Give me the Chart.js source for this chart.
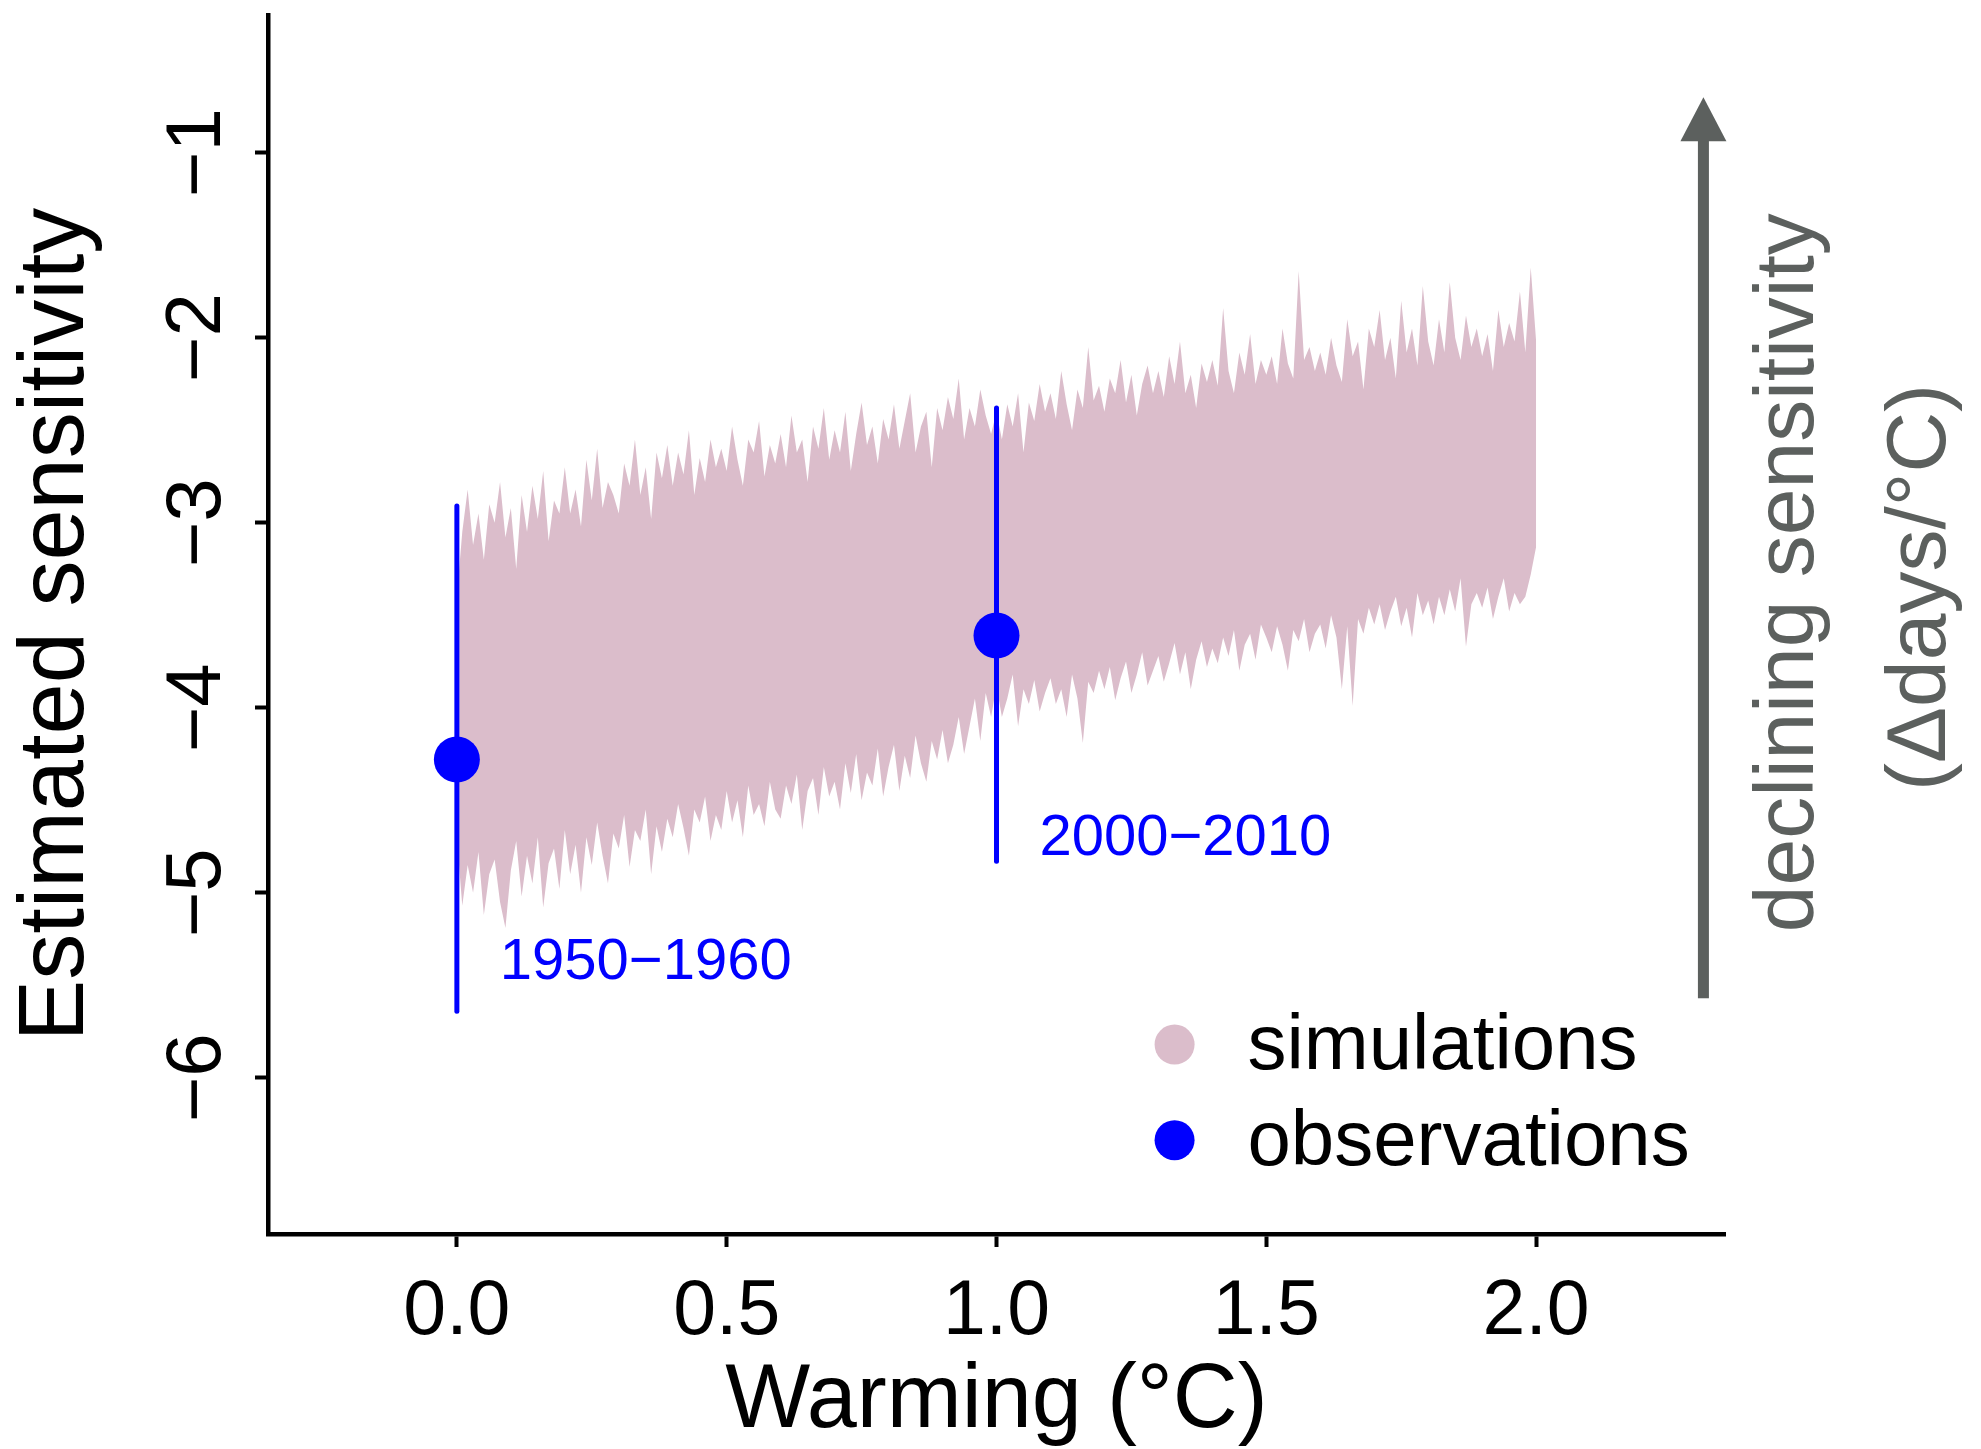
<!DOCTYPE html>
<html>
<head>
<meta charset="utf-8">
<title>Estimated sensitivity vs warming</title>
<script src="https://cdn.jsdelivr.net/npm/chart.js@4.4.1/dist/chart.umd.min.js"></script>
<style>
  html, body { margin: 0; padding: 0; background: #fff; }
  #chart { display: block; }
</style>
</head>
<body>
<canvas id="chart" width="1981" height="1449"></canvas>
<script>
// simulations: warming steps and the upper / lower edge of the envelope
var simX = [
  0,0.01,0.02,0.03,0.04,0.05,0.06,0.07,0.08,0.09,0.1,0.11,0.12,0.13,0.14,0.15,0.16,0.17,0.18,0.19,
  0.2,0.21,0.22,0.23,0.24,0.25,0.26,0.27,0.28,0.29,0.3,0.31,0.32,0.33,0.34,0.35,0.36,0.37,0.38,0.39,
  0.4,0.41,0.42,0.43,0.44,0.45,0.46,0.47,0.48,0.49,0.5,0.51,0.52,0.53,0.54,0.55,0.56,0.57,0.58,0.59,
  0.6,0.61,0.62,0.63,0.64,0.65,0.66,0.67,0.68,0.69,0.7,0.71,0.72,0.73,0.74,0.75,0.76,0.77,0.78,0.79,
  0.8,0.81,0.82,0.83,0.84,0.85,0.86,0.87,0.88,0.89,0.9,0.91,0.92,0.93,0.94,0.95,0.96,0.97,0.98,0.99,
  1,1.01,1.02,1.03,1.04,1.05,1.06,1.07,1.08,1.09,1.1,1.11,1.12,1.13,1.14,1.15,1.16,1.17,1.18,1.19,
  1.2,1.21,1.22,1.23,1.24,1.25,1.26,1.27,1.28,1.29,1.3,1.31,1.32,1.33,1.34,1.35,1.36,1.37,1.38,1.39,
  1.4,1.41,1.42,1.43,1.44,1.45,1.46,1.47,1.48,1.49,1.5,1.51,1.52,1.53,1.54,1.55,1.56,1.57,1.58,1.59,
  1.6,1.61,1.62,1.63,1.64,1.65,1.66,1.67,1.68,1.69,1.7,1.71,1.72,1.73,1.74,1.75,1.76,1.77,1.78,1.79,
  1.8,1.81,1.82,1.83,1.84,1.85,1.86,1.87,1.88,1.89,1.9,1.91,1.92,1.93,1.94,1.95,1.96,1.97,1.98,1.99,
  2
];
var simUpper = [
  -3.40,-3.05,-2.82,-3.12,-2.95,-3.20,-2.90,-3.00,-2.78,-3.08,
  -2.92,-3.25,-2.85,-3.05,-2.80,-2.98,-2.72,-3.10,-2.88,-2.95,
  -2.70,-2.95,-2.82,-3.02,-2.66,-2.88,-2.60,-2.92,-2.78,-2.85,
  -2.95,-2.68,-2.80,-2.55,-2.85,-2.70,-2.98,-2.62,-2.76,-2.58,
  -2.80,-2.62,-2.74,-2.50,-2.85,-2.65,-2.78,-2.55,-2.70,-2.60,
  -2.72,-2.48,-2.66,-2.80,-2.55,-2.62,-2.45,-2.75,-2.58,-2.68,
  -2.52,-2.70,-2.42,-2.62,-2.55,-2.78,-2.48,-2.60,-2.38,-2.66,
  -2.50,-2.62,-2.40,-2.72,-2.52,-2.35,-2.58,-2.48,-2.68,-2.44,
  -2.55,-2.36,-2.60,-2.45,-2.30,-2.62,-2.48,-2.40,-2.70,-2.38,
  -2.50,-2.32,-2.44,-2.22,-2.55,-2.38,-2.48,-2.28,-2.42,-2.52,
  -2.40,-2.55,-2.36,-2.48,-2.30,-2.62,-2.35,-2.45,-2.25,-2.40,
  -2.30,-2.44,-2.18,-2.36,-2.50,-2.28,-2.38,-2.05,-2.34,-2.26,
  -2.40,-2.22,-2.30,-2.12,-2.35,-2.20,-2.42,-2.25,-2.15,-2.30,
  -2.18,-2.32,-2.10,-2.25,-2.02,-2.30,-2.20,-2.38,-2.14,-2.24,
  -2.12,-2.26,-1.84,-2.18,-2.30,-2.08,-2.20,-1.98,-2.25,-2.12,
  -2.20,-2.10,-2.25,-1.95,-2.14,-2.22,-1.64,-2.12,-2.05,-2.18,
  -2.08,-2.20,-2.00,-2.15,-2.24,-1.90,-2.10,-2.02,-2.28,-1.95,
  -2.05,-1.85,-2.12,-2.00,-2.22,-1.80,-2.08,-1.95,-2.15,-1.72,
  -2.02,-2.15,-1.90,-2.08,-1.70,-2.00,-2.12,-1.88,-2.05,-1.95,
  -2.10,-1.98,-2.18,-1.85,-2.05,-1.92,-2.02,-1.75,-2.08,-1.62,
  -2.02
];
var simLower = [
  -4.70,-5.07,-4.85,-5.00,-4.78,-5.12,-4.90,-4.82,-5.05,-5.19,
  -4.88,-4.72,-5.02,-4.80,-4.95,-4.70,-5.08,-4.84,-4.76,-4.98,
  -4.66,-4.90,-4.74,-5.00,-4.70,-4.85,-4.62,-4.80,-4.95,-4.68,
  -4.76,-4.58,-4.86,-4.66,-4.72,-4.55,-4.90,-4.64,-4.78,-4.60,
  -4.70,-4.52,-4.65,-4.80,-4.55,-4.62,-4.48,-4.72,-4.58,-4.66,
  -4.45,-4.62,-4.50,-4.70,-4.42,-4.58,-4.52,-4.64,-4.40,-4.55,
  -4.60,-4.42,-4.52,-4.36,-4.66,-4.45,-4.38,-4.58,-4.32,-4.48,
  -4.40,-4.55,-4.30,-4.46,-4.25,-4.50,-4.35,-4.42,-4.22,-4.48,
  -4.32,-4.20,-4.45,-4.26,-4.38,-4.15,-4.30,-4.40,-4.18,-4.28,
  -4.12,-4.30,-4.20,-4.05,-4.25,-4.10,-3.95,-4.18,-3.92,-4.05,
  -3.88,-4.05,-3.95,-3.82,-4.10,-3.90,-3.98,-3.85,-4.02,-3.92,
  -3.84,-3.98,-3.90,-4.05,-3.82,-3.95,-4.19,-3.86,-3.92,-3.80,
  -3.90,-3.78,-3.96,-3.84,-3.75,-3.92,-3.82,-3.70,-3.88,-3.80,
  -3.72,-3.86,-3.76,-3.65,-3.82,-3.70,-3.90,-3.74,-3.64,-3.78,
  -3.68,-3.76,-3.62,-3.72,-3.58,-3.80,-3.66,-3.60,-3.74,-3.55,
  -3.62,-3.70,-3.56,-3.66,-3.80,-3.58,-3.64,-3.52,-3.70,-3.60,
  -3.55,-3.68,-3.50,-3.62,-3.90,-3.56,-3.99,-3.52,-3.60,-3.46,
  -3.55,-3.44,-3.58,-3.48,-3.40,-3.56,-3.46,-3.62,-3.38,-3.50,
  -3.42,-3.55,-3.40,-3.50,-3.36,-3.48,-3.30,-3.67,-3.44,-3.38,
  -3.46,-3.35,-3.52,-3.40,-3.30,-3.48,-3.38,-3.44,-3.40,-3.28,
  -3.13
];

// observations (two decades) with their error bars
var obsLabels = ['1950\u22121960', '2000\u22122010'];
var obsX = [0, 1];
var obsY = [-4.28, -3.61];
var obsLow = [-5.64, -4.83];
var obsHigh = [-2.91, -2.38];
var obsLabelX = [0.35, 1.35];
var obsLabelY = [-5.38, -4.71];

// axes
var xTicks = [0, 0.5, 1, 1.5, 2];
var yTicks = [-6, -5, -4, -3, -2, -1];
var xRange = [-0.35, 2.35];
var yRange = [-6.844, -0.256];

var legendLabels = ['simulations', 'observations'];
var arrowText = ['declining sensitivity', '(\u0394days/\u00b0C)'];
var arrowX = 2.31;
var arrowFrom = -5.57;
var arrowTo = -0.70;

var bandColor = '#dbbdcb';
var obsColor = '#0000ff';
var arrowColor = '#5c605e';
var FONT = '"Liberation Sans", Arial, Helvetica, sans-serif';

function minus(v) {
    return String(v).replace('-', '\u2212');
}

function pts(xs, ys) {
    return xs.map(function(x, i) { return {x: x, y: ys[i]}; });
}

var datasets = [
    {
        label: 'observations',
        data: pts(obsX, obsY),
        showLine: false,
        pointRadius: 23,
        pointBackgroundColor: obsColor,
        pointBorderWidth: 0,
        order: 0
    }
];
obsX.forEach(function(x, i) {
    datasets.push({
        label: 'err ' + obsLabels[i],
        data: [{x: x, y: obsLow[i]}, {x: x, y: obsHigh[i]}],
        borderColor: obsColor,
        borderWidth: 5,
        borderCapStyle: 'round',
        pointRadius: 0,
        fill: false,
        order: 1
    });
});
datasets.push({
    label: 'sim lower',
    data: pts(simX, simLower),
    borderWidth: 0,
    pointRadius: 0,
    fill: false,
    tension: 0,
    order: 3
});
datasets.push({
    label: 'simulations',
    data: pts(simX, simUpper),
    borderWidth: 0,
    pointRadius: 0,
    backgroundColor: bandColor,
    fill: '-1',
    tension: 0,
    order: 2
});

// texts, legend and the arrow on the right
var overlay = {
    id: 'overlay',
    afterDatasetsDraw: function(chart) {
        var ctx = chart.ctx;
        var xs = chart.scales.x;
        var ys = chart.scales.y;
        ctx.save();

        ctx.fillStyle = obsColor;
        ctx.font = '58px ' + FONT;
        ctx.textAlign = 'center';
        ctx.textBaseline = 'middle';
        obsLabels.forEach(function(t, i) {
            ctx.fillText(t, xs.getPixelForValue(obsLabelX[i]), ys.getPixelForValue(obsLabelY[i]));
        });

        // legend
        var lx = xs.getPixelForValue(1.33);
        var tx = xs.getPixelForValue(1.465);
        var ly = [ys.getPixelForValue(-5.82), ys.getPixelForValue(-6.337)];
        var lc = [bandColor, obsColor];
        ctx.font = '78px ' + FONT;
        ctx.textAlign = 'left';
        legendLabels.forEach(function(t, i) {
            ctx.beginPath();
            ctx.arc(lx, ly[i], 20, 0, Math.PI * 2);
            ctx.fillStyle = lc[i];
            ctx.fill();
            ctx.fillStyle = '#000';
            ctx.fillText(t, tx, ly[i] + 3);
        });

        // arrow
        var ax = xs.getPixelForValue(arrowX);
        var y0 = ys.getPixelForValue(arrowFrom);
        var y1 = ys.getPixelForValue(arrowTo);
        ctx.fillStyle = arrowColor;
        ctx.fillRect(ax - 5.5, y1 + 40, 11, y0 - y1 - 40);
        ctx.beginPath();
        ctx.moveTo(ax, y1);
        ctx.lineTo(ax + 23, y1 + 44);
        ctx.lineTo(ax - 23, y1 + 44);
        ctx.closePath();
        ctx.fill();

        ctx.font = '84px ' + FONT;
        ctx.textAlign = 'center';
        ctx.textBaseline = 'alphabetic';
        var tpos = [[2.513, -3.27], [2.757, -3.35]];
        arrowText.forEach(function(t, i) {
            ctx.save();
            ctx.translate(xs.getPixelForValue(tpos[i][0]), ys.getPixelForValue(tpos[i][1]));
            ctx.rotate(-Math.PI / 2);
            ctx.fillText(t, 0, 0);
            ctx.restore();
        });

        ctx.restore();
    }
};

new Chart(document.getElementById('chart').getContext('2d'), {
    type: 'line',
    data: { datasets: datasets },
    plugins: [overlay],
    options: {
        responsive: false,
        animation: false,
        events: [],
        layout: { autoPadding: false, padding: { left: 0, top: 15, right: 256, bottom: 0 } },
        plugins: {
            legend: { display: false },
            tooltip: { enabled: false }
        },
        scales: {
            x: {
                type: 'linear',
                min: xRange[0],
                max: xRange[1],
                afterBuildTicks: function(s) { s.ticks = xTicks.map(function(v) { return {value: v}; }); },
                afterFit: function(s) { s.height = 215; s.paddingLeft = 0; s.paddingRight = 0; },
                grid: { drawOnChartArea: false, drawTicks: true, tickLength: 13, tickWidth: 4, tickColor: '#000' },
                border: { display: true, color: '#000', width: 4.5 },
                ticks: {
                    color: '#000',
                    padding: 27,
                    maxRotation: 0,
                    font: { family: FONT, size: 77, lineHeight: 1 },
                    callback: function(v) { return v.toFixed(1); }
                },
                title: {
                    display: true,
                    text: 'Warming (\u00b0C)',
                    color: '#000',
                    font: { family: FONT, size: 90, lineHeight: 1 },
                    padding: { top: 0, bottom: 2 }
                }
            },
            y: {
                type: 'linear',
                min: yRange[0],
                max: yRange[1],
                afterBuildTicks: function(s) { s.ticks = yTicks.map(function(v) { return {value: v}; }); },
                afterFit: function(s) { s.width = 268; s.paddingTop = 0; s.paddingBottom = 0; },
                grid: { drawOnChartArea: false, drawTicks: true, tickLength: 13, tickWidth: 4, tickColor: '#000' },
                border: { display: true, color: '#000', width: 4.5 },
                ticks: {
                    color: '#000',
                    padding: 12,
                    minRotation: 90,
                    maxRotation: 90,
                    crossAlign: 'center',
                    font: { family: FONT, size: 78, lineHeight: 1 },
                    callback: function(v) { return minus(v); }
                },
                title: {
                    display: true,
                    text: 'Estimated sensitivity',
                    color: '#000',
                    font: { family: FONT, size: 92, lineHeight: 1 },
                    padding: { top: 12, bottom: 0 }
                }
            }
        }
    }
});
</script>
</body>
</html>
